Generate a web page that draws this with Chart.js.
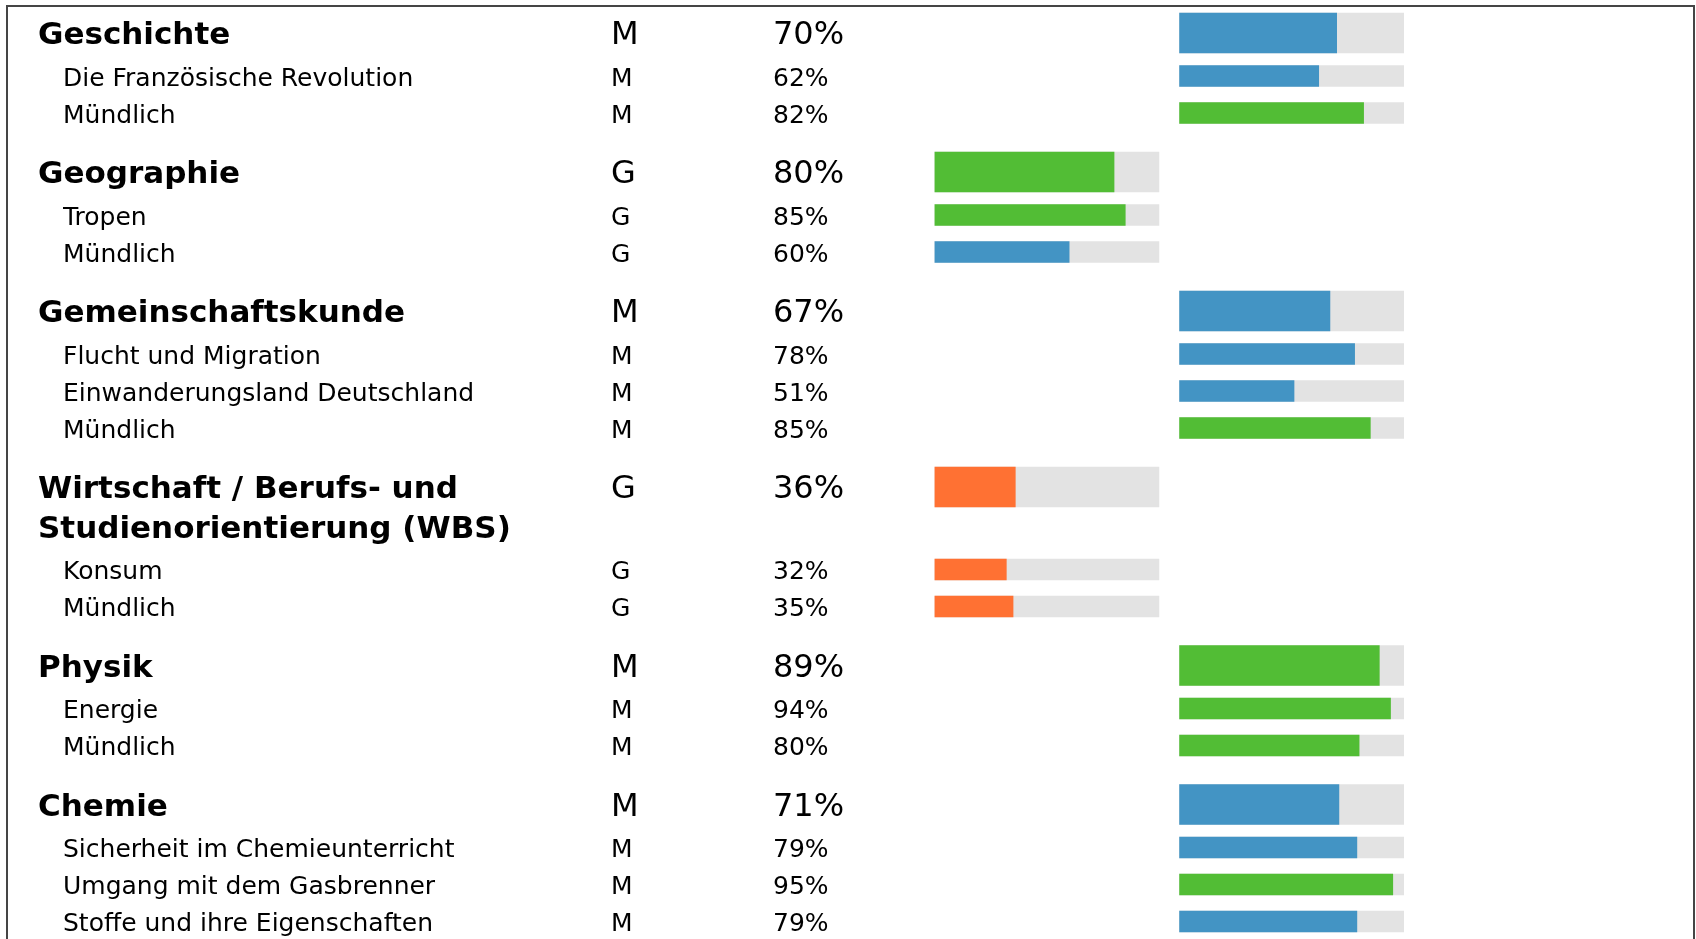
<!DOCTYPE html>
<html>
<head>
<meta charset="utf-8">
<title>Noten</title>
<script src="https://cdn.jsdelivr.net/npm/chart.js@4.4.1/dist/chart.umd.min.js"></script>
<style>
  html, body { margin: 0; padding: 0; background: #fff; overflow: hidden; }
  .frame {
    position: absolute; left: 6px; top: 5px;
    width: 1685px; height: 1000px;
    border: 2px solid #454545;
  }
  .chart-container { position: absolute; left: 0; top: 0; width: 1696px; height: 939px; }
</style>
</head>
<body>
<div class="frame"></div>
<div class="chart-container"><canvas id="scoreChart"></canvas></div>
<script>
const subjects = ["Geschichte", "Geographie", "Gemeinschaftskunde", ["Wirtschaft / Berufs- und", "Studienorientierung (WBS)"], "Physik", "Chemie"];
const subjectLevels = ["M", "G", "M", "G", "M", "M"];
const subjectScores = [70, 80, 67, 36, 89, 71];

const topics = [
  ["Die Französische Revolution", "Mündlich"],
  ["Tropen", "Mündlich"],
  ["Flucht und Migration", "Einwanderungsland Deutschland", "Mündlich"],
  ["Konsum", "Mündlich"],
  ["Energie", "Mündlich"],
  ["Sicherheit im Chemieunterricht", "Umgang mit dem Gasbrenner", "Stoffe und ihre Eigenschaften"],
];
const topicScores = [[62, 82], [85, 60], [78, 51, 85], [32, 35], [94, 80], [79, 95, 79]];

// row layout, y axis runs 0..HEIGHT from top to bottom
const HEIGHT = 939;
const FIRST_ROW = 33;
const HEAD_TO_SUB = 43, SUB_TO_SUB = 37, SUB_TO_HEAD = 59, WRAP_LINE = 39.5;
const TEXT_SHIFT = 3; // labels sit a little lower than the bar centres
const COL_GAP = 9.2; // space between the G and M bar columns (percent units)
const colStart = { G: 0, M: 100 + COL_GAP };
const INDENT = 25;

const FONT = "DejaVu Sans";
const headFont = { family: FONT, size: 31, weight: "bold", lineHeight: WRAP_LINE + "px" };
const headFontPlain = { family: FONT, size: 32, weight: "normal" };
const subFont = { family: FONT, size: 25, weight: "normal" };

const barColor = v => v >= 80 ? "#52bd35" : v < 50 ? "#ff7133" : "#4394c4";

const rows = [];
let pos = FIRST_ROW;
subjects.forEach((name, i) => {
  if (i > 0) pos += SUB_TO_HEAD;
  const lines = Array.isArray(name) ? name.length : 1;
  rows.push({ label: name, level: subjectLevels[i], score: subjectScores[i], head: true, y: pos, lines });
  pos += (lines - 1) * WRAP_LINE;
  topics[i].forEach((t, j) => {
    pos += j === 0 ? HEAD_TO_SUB : SUB_TO_SUB;
    rows.push({ label: t, level: subjectLevels[i], score: topicScores[i][j], head: false, y: pos, lines: 1 });
  });
});

const heads = rows.filter(r => r.head);
const subs = rows.filter(r => !r.head);

const fillData = list => list.map(r => ({ y: r.y, x: [colStart[r.level], colStart[r.level] + r.score] }));
const trackData = list => list.map(r => ({ y: r.y, x: [colStart[r.level], colStart[r.level] + 100] }));

// one left axis per text column
const textAxis = (list, weight, width, labelOf, fontOf, multiLine, tickOpts) => ({
  type: "linear",
  position: "left",
  weight,
  min: 0,
  max: HEIGHT,
  reverse: true,
  offset: false,
  grid: { display: false },
  border: { display: false },
  afterBuildTicks: axis => {
    axis.ticks = list.map(r => ({
      value: r.y + TEXT_SHIFT + (multiLine ? (r.lines - 1) * WRAP_LINE / 2 : 0),
    }));
  },
  afterFit: axis => {
    axis.width = width;
    axis.paddingTop = 0;
    axis.paddingBottom = 0;
  },
  ticks: Object.assign({
    autoSkip: false,
    crossAlign: "far",
    padding: 0,
    color: "#000",
    callback: (v, i) => labelOf(list[i]),
    font: ctx => fontOf(list[ctx.index] || list[0]),
  }, tickOpts),
});

const canvas = document.getElementById("scoreChart");

new Chart(canvas, {
  type: "bar",
  data: {
    datasets: [
      {
        data: fillData(heads),
        backgroundColor: heads.map(r => barColor(r.score)),
        barThickness: 40,
        grouped: false,
      },
      {
        data: fillData(subs),
        backgroundColor: subs.map(r => barColor(r.score)),
        barThickness: 21,
        grouped: false,
      },
      {
        data: trackData(heads),
        backgroundColor: "#e3e3e3",
        barThickness: 40,
        grouped: false,
      },
      {
        data: trackData(subs),
        backgroundColor: "#e3e3e3",
        barThickness: 21,
        grouped: false,
      },
    ],
  },
  options: {
    indexAxis: "y",
    responsive: true,
    maintainAspectRatio: false,
    animation: false,
    layout: { padding: { left: 38, right: 292, top: 0, bottom: 0 } },
    scales: {
      x: { type: "linear", min: 0, max: 200 + COL_GAP, display: false },
      y: { type: "linear", min: 0, max: HEIGHT, reverse: true, offset: false, display: false },
      // headings: mirrored so the long names are not clipped to the narrow indent column
      yHead: textAxis(heads, 4, INDENT, r => r.label, () => headFont, true,
        { mirror: true, crossAlign: "near", padding: -INDENT }),
      ySub: textAxis(subs, 3, 548, r => r.label, () => subFont, false),
      yLevel: textAxis(rows, 2, 162, r => r.level, r => r.head ? headFontPlain : subFont, false),
      yPct: textAxis(rows, 1, 161.5, r => r.score + "%", r => r.head ? headFontPlain : subFont, false),
    },
    plugins: {
      legend: { display: false },
      tooltip: { enabled: false },
    },
  },
});
</script>
</body>
</html>
